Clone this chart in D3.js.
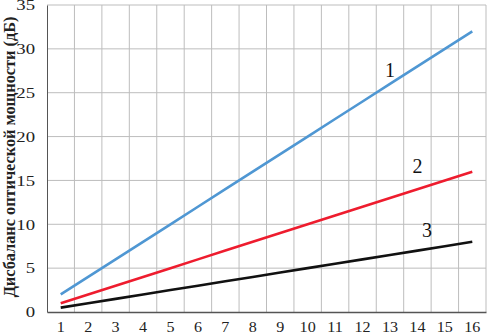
<!DOCTYPE html>
<html>
<head>
<meta charset="utf-8">
<script src="https://cdn.jsdelivr.net/npm/d3@7"></script>
<style>
  body { margin: 0; background: #fff; }
  svg text { font-family: "Liberation Serif", "DejaVu Serif", serif !important; }
</style>
</head>
<body>
<svg id="chart"></svg>
<script>
// data
const categories = [1, 2, 3, 4, 5, 6, 7, 8, 9, 10, 11, 12, 13, 14, 15, 16]
const series1 = [2, 4, 6, 8, 10, 12, 14, 16, 18, 20, 22, 24, 26, 28, 30, 32]
const series2 = [1, 2, 3, 4, 5, 6, 7, 8, 9, 10, 11, 12, 13, 14, 15, 16]
const series3 = [0.5, 1, 1.5, 2, 2.5, 3, 3.5, 4, 4.5, 5, 5.5, 6, 6.5, 7, 7.5, 8]
const yTicks = [0, 5, 10, 15, 20, 25, 30, 35]
const lineLabels = [
  { text: '1', x: 13, y: 26.8 },
  { text: '2', x: 14, y: 15.8 },
  { text: '3', x: 14.35, y: 8.6 }
]

const W = 488, H = 334
const margin = { top: 5, right: 2, bottom: 22, left: 47 }
const width = W - margin.left - margin.right
const height = H - margin.top - margin.bottom

const svg = d3.select('#chart').attr('width', W).attr('height', H)
const g = svg.append('g').attr('transform', `translate(${margin.left}, ${margin.top})`)

const xScale = d3.scaleBand().domain(categories).range([0, width])
const yScale = d3.scaleLinear().domain([0, 35]).range([height, 0])
const xCenter = v => xScale(v) + xScale.bandwidth() / 2
// for fractional positions of the annotations
const xLin = d3.scaleLinear().domain([1, 16]).range([xCenter(1), xCenter(16)])

// grid
g.append('g')
  .selectAll('line')
  .data(yTicks.slice(1))
  .enter().append('line')
  .attr('x1', 0).attr('x2', width)
  .attr('y1', d => yScale(d)).attr('y2', d => yScale(d))
  .attr('stroke', '#bdbdbd').attr('stroke-width', 1)

g.append('g')
  .selectAll('line')
  .data(categories)
  .enter().append('line')
  .attr('x1', d => xScale(d) + xScale.bandwidth()).attr('x2', d => xScale(d) + xScale.bandwidth())
  .attr('y1', 0).attr('y2', height)
  .attr('stroke', '#bdbdbd').attr('stroke-width', 1)

// axes
const yAxis = g.append('g')
  .call(d3.axisLeft(yScale).tickValues(yTicks).tickSize(0))
yAxis.select('.domain').attr('stroke', '#555')
yAxis.selectAll('text')
  .style('font-size', '15px').attr('fill', '#222')
  .attr('transform', 'scale(1.25,1)')
  .attr('x', -12 / 1.25)

const xAxis = g.append('g')
  .attr('transform', `translate(0, ${height})`)
  .call(d3.axisBottom(xScale).tickSize(0).tickPadding(10))
xAxis.select('.domain').attr('stroke', '#555').attr('stroke-width', 1.5)
xAxis.selectAll('text')
  .style('font-size', '14px').attr('fill', '#222')
  .attr('transform', 'scale(1.15,1)')

// lines
const line = d3.line()
  .x((d, i) => xCenter(categories[i]))
  .y(d => yScale(d))

const lines = [
  { values: series1, color: '#4f97d3' },
  { values: series2, color: '#ee1c2e' },
  { values: series3, color: '#111' }
]
g.selectAll('.series')
  .data(lines)
  .enter().append('path')
  .attr('class', 'series')
  .attr('d', d => line(d.values))
  .attr('fill', 'none')
  .attr('stroke', d => d.color)
  .attr('stroke-width', 2.6)

// annotations
g.selectAll('.lbl')
  .data(lineLabels)
  .enter().append('text')
  .attr('class', 'lbl')
  .attr('x', d => xLin(d.x))
  .attr('y', d => yScale(d.y))
  .attr('text-anchor', 'middle')
  .style('font-size', '20px')
  .attr('fill', '#111')
  .text(d => d.text)

// y axis title
svg.append('text')
  .attr('transform', `translate(15, ${157}) rotate(-90)`)
  .attr('text-anchor', 'middle')
  .style('font-size', '16.3px')
  .attr('font-weight', 'bold')
  .attr('fill', '#222')
  .text('Дисбаланс оптической мощности (дБ)')
</script>
</body>
</html>
